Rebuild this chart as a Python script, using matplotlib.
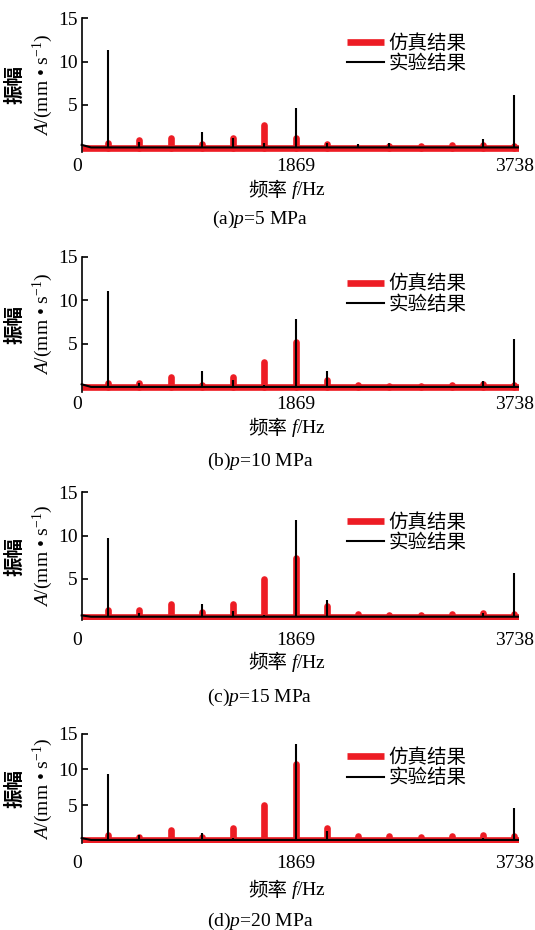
import matplotlib.pyplot as plt

plt.rcParams['font.family'] = ['Liberation Serif', 'Noto Sans CJK SC']
plt.rcParams['mathtext.fontset'] = 'custom'
plt.rcParams['mathtext.rm'] = 'Liberation Serif'
plt.rcParams['mathtext.it'] = 'Liberation Serif:italic'

# harmonic frequencies (Hz)
freqs = [267, 534, 801, 1068, 1335, 1602, 1869, 2136, 2403, 2670, 2937, 3204, 3471, 3738]
f_start, f_end = 40, 3778

# simulated amplitude peaks (mm/s)
sim_a = [0.65, 0.95, 1.2, 0.55, 1.15, 2.7, 1.2, 0.55, 0.0, 0.25, 0.3, 0.35, 0.4, 0.3]
sim_b = [0.55, 0.5, 1.15, 0.3, 1.2, 2.95, 5.25, 0.9, 0.25, 0.2, 0.2, 0.3, 0.4, 0.3]
sim_c = [1.4, 1.4, 2.1, 1.2, 2.1, 5.0, 7.4, 1.9, 1.0, 0.9, 0.9, 1.0, 1.1, 1.0]
sim_d = [0.9, 0.6, 1.6, 0.6, 1.85, 5.0, 10.7, 1.85, 0.7, 0.7, 0.6, 0.7, 0.8, 0.7]
sim_base = [0.0, 0.0, 0.65, 0.14]

# experimental amplitude peaks (mm/s)
exp_a = [11.35, 0.77, 0.1, 1.85, 1.15, 0.65, 4.6, 0.6, 0.45, 0.6, 0.1, 0.1, 1.05, 6.15]
exp_b = [11.1, 0.55, 0.1, 1.9, 0.8, 0.3, 7.9, 1.9, 0.2, 0.1, 0.1, 0.1, 0.7, 5.6]
exp_c = [9.7, 1.1, 0.65, 2.1, 1.3, 0.85, 11.8, 2.6, 0.65, 0.65, 0.65, 0.65, 1.1, 5.7]
exp_d = [9.4, 0.8, 0.15, 1.15, 0.4, 0.3, 13.55, 1.45, 0.3, 0.15, 0.15, 0.15, 0.4, 4.55]
exp_base = [0.1, 0.05, 0.65, 0.15]
exp_start = [0.4, 0.35, 0.8, 0.4]

captions = ['(a)', '(b)', '(c)', '(d)']
pressures = [5, 10, 15, 20]

sims = [sim_a, sim_b, sim_c, sim_d]
exps = [exp_a, exp_b, exp_c, exp_d]

RED = '#ED1C24'
W, H = 535, 930
fig = plt.figure(figsize=(W / 100, H / 100), dpi=100)

# pixel layout: axes top, axes bottom, ylim low, xtick pad, xlabel y, caption y, legend y
layout = [
    (18.3, 151.7, -0.39, 4.5, 190, 219, 53.5),
    (256.7, 391.7, -0.5, 3.0, 428, 461, 294.3),
    (492.3, 620.0, 0.27, 8.5, 663, 697, 532.5),
    (733.7, 843.3, -0.32, 8.5, 890, 921, 767.8),
]
ax_left, ax_right = 77, 519

for i in range(4):
    top, bot, ylo, pad, xl_y, cap_y, leg_y = layout[i]
    ax = fig.add_axes([ax_left / W, 1 - bot / H, (ax_right - ax_left) / W, (bot - top) / H])

    l1, = ax.plot([f_start, f_end], [sim_base[i], sim_base[i]], color=RED, lw=4.8,
                  solid_capstyle='butt', label='仿真结果')
    ax.vlines(freqs, sim_base[i], sims[i], color=RED, lw=4.8, capstyle='round')

    l2, = ax.plot([f_start, 120, f_end], [exp_start[i], exp_base[i], exp_base[i]],
                  color='black', lw=1.5, label='实验结果')
    ax.vlines(freqs, exp_base[i], exps[i], color='black', lw=1.5)

    ax.set_xlim(0, f_end)
    ax.set_ylim(ylo, 15)
    for s in ['top', 'right', 'bottom']:
        ax.spines[s].set_visible(False)
    ax.spines['left'].set_position(('data', f_start))
    ax.spines['left'].set_linewidth(1.2)

    ax.set_xticks([0, 1869, 3738])
    ax.set_yticks([5, 10, 15])
    ax.tick_params(axis='x', length=0, pad=pad, labelsize=14)
    ax.tick_params(axis='y', direction='in', length=4, width=1.2, pad=3, labelsize=14)

    ax.legend(handles=[l1, l2], loc='center left', bbox_to_anchor=(346.7 / W, 1 - leg_y / H),
              bbox_transform=fig.transFigure, frameon=False, borderpad=0, borderaxespad=0,
              handlelength=1.9, handletextpad=0.25, labelspacing=0.1, fontsize=14)

    yc = 1 - (top + bot) / 2 / H
    fig.text(15 / W, yc, '振幅', rotation=90, ha='center', va='center', fontsize=14,
             family='Noto Sans CJK SC', weight='bold')
    fig.text(43.3 / W, yc, '$A$/(mm • s$^{-1}$)', rotation=90, ha='center', va='center',
             fontsize=14)
    fig.text(287 / W, 1 - xl_y / H, '频率', ha='right', va='center', fontsize=14,
             family='Noto Sans CJK SC')
    fig.text(291 / W, 1 - xl_y / H, '$f$/Hz', ha='left', va='center', fontsize=14)
    fig.text(260 / W, 1 - cap_y / H, f'{captions[i]}$p$={pressures[i]} MPa',
             ha='center', va='center', fontsize=14)

fig.savefig('out.png', dpi=100)
